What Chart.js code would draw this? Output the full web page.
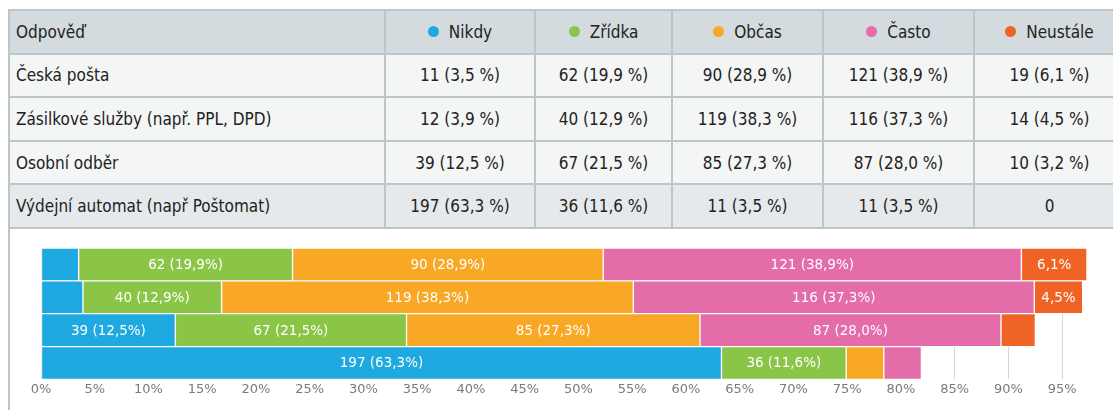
<!DOCTYPE html>
<html>
<head>
<meta charset="utf-8">
<script src="https://cdn.jsdelivr.net/npm/chart.js@4"></script>
<style>
  html, body { margin: 0; padding: 0; background: #fff; overflow: hidden; }
  body { width: 1113px; height: 410px; position: relative; }
  #wrap { position: absolute; left: 8px; top: 9px; width: 1116px; }
  table {
    border-collapse: collapse;
    table-layout: fixed;
    width: 1116px;
    font-family: "DejaVu Sans Condensed", "Noto Sans", sans-serif;
    font-size: 17px;
    color: #222;
  }
  th, td {
    border: 2px solid #bcc6ca;
    height: 41.6px;
    padding: 0 6px;
    text-align: center;
    font-weight: normal;
    white-space: nowrap;
  }
  th { background: #d3dbde; }
  td { background: #f4f5f5; }
  tr.last td { background: #e5e9eb; }
  th:first-child, td:first-child { text-align: left; }
  .dot {
    display: inline-block; width: 11px; height: 11px; border-radius: 50%;
    margin-right: 10px; vertical-align: 1px;
  }
  #panel {
    position: relative;
    height: 190px;
    border-left: 2px solid #bcc6ca;
    background: #fff;
  }
  #chartBox { position: absolute; left: -10px; top: 0; width: 1140px; height: 174px; }
</style>
</head>
<body>
<div id="wrap">
  <table id="tbl"></table>
  <div id="panel">
    <div id="chartBox"><canvas id="barChart"></canvas></div>
  </div>
</div>
<script>
// data
var firstHeader = "Odpověď";
var categories = ["Česká pošta", "Zásilkové služby (např. PPL, DPD)", "Osobní odběr", "Výdejní automat (např Poštomat)"];
var seriesNames = ["Nikdy", "Zřídka", "Občas", "Často", "Neustále"];
var seriesColors = ["#1fa9e1", "#8bc548", "#f9a825", "#e46ca9", "#ef6425"];

// counts per series (one value per category)
var nikdyCount    = [11, 12, 39, 197];
var zridkaCount   = [62, 40, 67, 36];
var obcasCount    = [90, 119, 85, 11];
var castoCount    = [121, 116, 87, 11];
var neustaleCount = [19, 14, 10, 0];

// percentages per series
var nikdyPct    = [3.5, 3.9, 12.5, 63.3];
var zridkaPct   = [19.9, 12.9, 21.5, 11.6];
var obcasPct    = [28.9, 38.3, 27.3, 3.5];
var castoPct    = [38.9, 37.3, 28.0, 3.5];
var neustalePct = [6.1, 4.5, 3.2, 0];

var axisMax = 100;
var axisStep = 5;

var counts = [nikdyCount, zridkaCount, obcasCount, castoCount, neustaleCount];
var pcts = [nikdyPct, zridkaPct, obcasPct, castoPct, neustalePct];

function fmt(v) { return v.toFixed(1).replace(".", ","); }

// build the table
var tbl = document.getElementById("tbl");
var html = '<colgroup><col style="width:376px"><col style="width:150px"><col style="width:137px"><col style="width:151px"><col style="width:151px"><col style="width:151px"></colgroup>';
html += "<tr><th>" + firstHeader + "</th>";
seriesNames.forEach(function(n, i) {
  html += '<th><span class="dot" style="background:' + seriesColors[i] + '"></span>' + n + "</th>";
});
html += "</tr>";
categories.forEach(function(c, r) {
  html += '<tr' + (r === categories.length - 1 ? ' class="last"' : '') + '><td>' + c + "</td>";
  seriesNames.forEach(function(n, i) {
    var cnt = counts[i][r];
    html += "<td>" + (cnt === 0 ? "0" : cnt + " (" + fmt(pcts[i][r]) + " %)") + "</td>";
  });
  html += "</tr>";
});
tbl.innerHTML = html;

// labels inside the bars
var barLabels = {
  id: "barLabels",
  afterDatasetsDraw: function(chart) {
    var ctx = chart.ctx;
    ctx.save();
    ctx.font = "13.5px 'DejaVu Sans'";
    ctx.fillStyle = "#fff";
    ctx.textAlign = "center";
    ctx.textBaseline = "middle";
    chart.data.datasets.forEach(function(ds, i) {
      var meta = chart.getDatasetMeta(i);
      meta.data.forEach(function(bar, j) {
        var w = Math.abs(bar.x - bar.base);
        var full = counts[i][j] + " (" + fmt(pcts[i][j]) + "%)";
        var short = fmt(pcts[i][j]) + "%";
        var txt = null;
        if (ctx.measureText(full).width + 12 <= w) txt = full;
        else if (ctx.measureText(short).width + 10 <= w) txt = short;
        if (txt) ctx.fillText(txt, (bar.x + bar.base) / 2, bar.y + 1);
      });
    });
    ctx.restore();
  }
};

var bar = document.getElementById("barChart");

var myBarChart = new Chart(bar, {
  type: "bar",
  data: {
    labels: categories,
    datasets: seriesNames.map(function(n, i) {
      return {
        label: n,
        data: pcts[i],
        backgroundColor: seriesColors[i],
        borderColor: "#fff",
        borderWidth: 1,
        borderSkipped: false,
        barPercentage: 1,
        categoryPercentage: 1
      };
    })
  },
  options: {
    indexAxis: "y",
    responsive: true,
    maintainAspectRatio: false,
    animation: false,
    layout: { padding: { left: 41, right: 24, top: 19, bottom: 4 } },
    plugins: { legend: { display: false }, tooltip: { enabled: false } },
    scales: {
      x: {
        stacked: true,
        min: 0,
        max: axisMax,
        border: { display: false },
        grid: { color: "#d6d6d6", drawTicks: false },
        ticks: {
          stepSize: axisStep,
          padding: 2,
          color: "#7a7a7a",
          font: { family: "DejaVu Sans", size: 13 },
          callback: function(v) { return v === axisMax ? "" : v + "%"; }
        }
      },
      y: {
        stacked: true,
        display: false
      }
    }
  },
  plugins: [barLabels]
});
</script>
</body>
</html>
